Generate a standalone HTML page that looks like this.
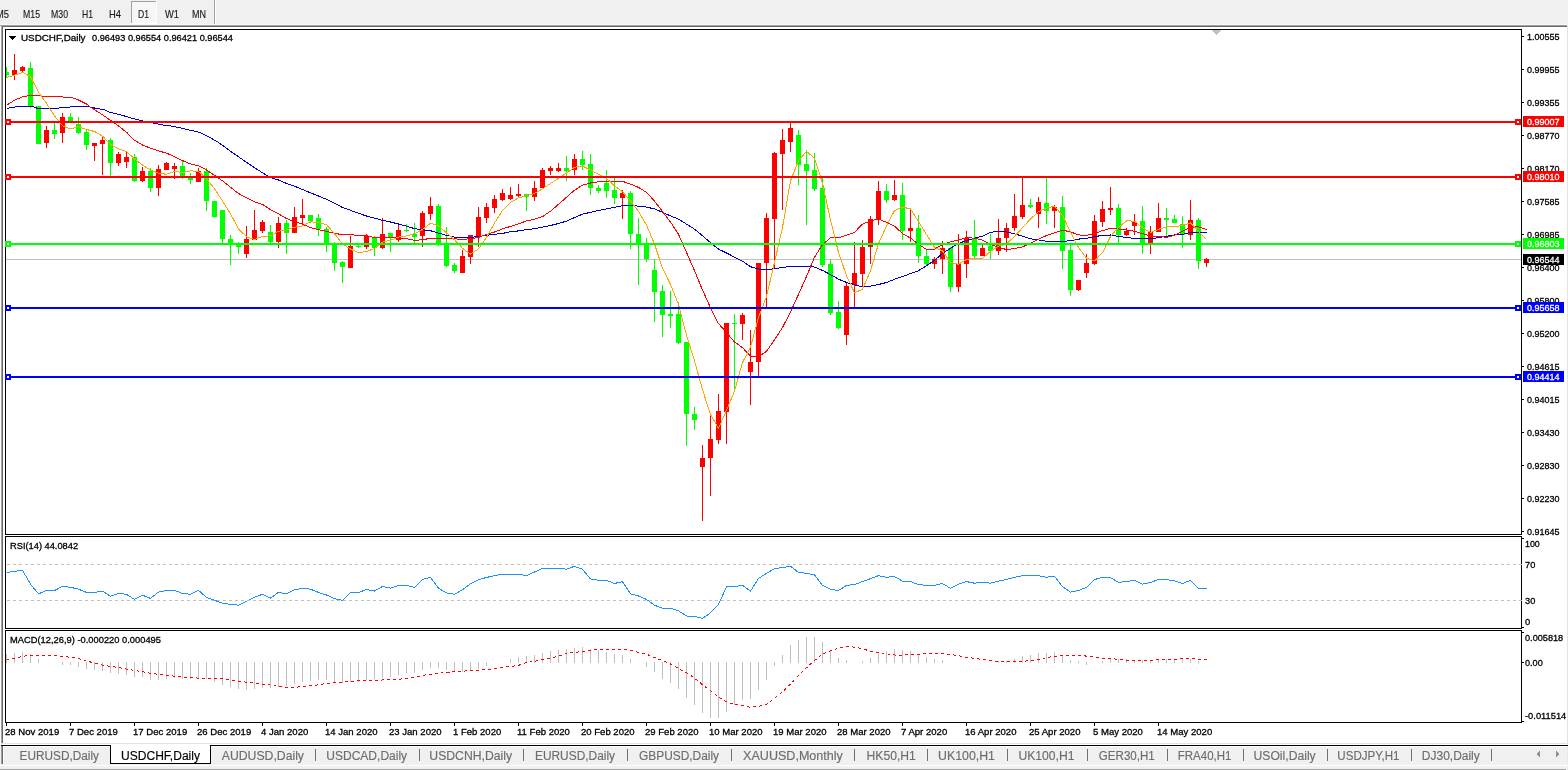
<!DOCTYPE html>
<html><head><meta charset="utf-8"><title>USDCHF,Daily</title>
<style>
html,body{margin:0;padding:0;background:#f0f0f0;overflow:hidden;}
svg{display:block;}
text{font-family:"Liberation Sans",Arial,sans-serif;}
</style></head><body>
<svg width="1568" height="770" viewBox="0 0 1568 770" shape-rendering="crispEdges">
<defs>
<clipPath id="cm"><rect x="6" y="30" width="1515" height="504"/></clipPath>
<clipPath id="cr"><rect x="6" y="537" width="1515" height="91"/></clipPath>
<clipPath id="cc"><rect x="6" y="631" width="1515" height="91"/></clipPath>
</defs>
<rect x="0" y="0" width="1568" height="770" fill="#f0f0f0"/>
<rect x="214" y="0" width="1" height="25" fill="#a0a0a0"/>
<rect x="215" y="0" width="1" height="25" fill="#ffffff"/>
<rect x="131" y="1" width="25" height="22" fill="#f7f7f7"/>
<rect x="131" y="1" width="25" height="1" fill="#a0a0a0"/>
<rect x="131" y="1" width="1" height="22" fill="#a0a0a0"/>
<rect x="156" y="1" width="1" height="23" fill="#ffffff"/>
<rect x="131" y="23" width="26" height="1" fill="#ffffff"/>
<text x="-4" y="18" font-size="11" fill="#1a1a1a" stroke="#1a1a1a" stroke-width="0.15" textLength="13" lengthAdjust="spacingAndGlyphs">M5</text>
<text x="23" y="18" font-size="11" fill="#1a1a1a" stroke="#1a1a1a" stroke-width="0.15" textLength="17" lengthAdjust="spacingAndGlyphs">M15</text>
<text x="51" y="18" font-size="11" fill="#1a1a1a" stroke="#1a1a1a" stroke-width="0.15" textLength="17" lengthAdjust="spacingAndGlyphs">M30</text>
<text x="82" y="18" font-size="11" fill="#1a1a1a" stroke="#1a1a1a" stroke-width="0.15" textLength="11" lengthAdjust="spacingAndGlyphs">H1</text>
<text x="109" y="18" font-size="11" fill="#1a1a1a" stroke="#1a1a1a" stroke-width="0.15" textLength="12" lengthAdjust="spacingAndGlyphs">H4</text>
<text x="138" y="18" font-size="11" fill="#1a1a1a" stroke="#1a1a1a" stroke-width="0.15" textLength="11" lengthAdjust="spacingAndGlyphs">D1</text>
<text x="165" y="18" font-size="11" fill="#1a1a1a" stroke="#1a1a1a" stroke-width="0.15" textLength="14" lengthAdjust="spacingAndGlyphs">W1</text>
<text x="192" y="18" font-size="11" fill="#1a1a1a" stroke="#1a1a1a" stroke-width="0.15" textLength="14" lengthAdjust="spacingAndGlyphs">MN</text>
<rect x="0" y="24" width="1568" height="1" fill="#f8f8f8"/>
<rect x="0" y="25" width="1567" height="1" fill="#a0a0a0"/>
<rect x="2" y="26" width="1565" height="1" fill="#696969"/>
<rect x="0" y="26" width="1" height="718" fill="#ffffff"/>
<rect x="1" y="25" width="1" height="718" fill="#a0a0a0"/>
<rect x="2" y="26" width="1" height="717" fill="#696969"/>
<rect x="3" y="27" width="1564" height="716" fill="#ffffff"/>
<rect x="1567" y="25" width="1" height="720" fill="#e3e3e3"/>
<rect x="5" y="29" width="1517" height="1" fill="#000"/>
<rect x="5" y="534" width="1517" height="1" fill="#000"/>
<rect x="5" y="29" width="1" height="506" fill="#000"/>
<rect x="1521" y="29" width="1" height="506" fill="#000"/>
<rect x="5" y="536" width="1517" height="1" fill="#000"/>
<rect x="5" y="628" width="1517" height="1" fill="#000"/>
<rect x="5" y="536" width="1" height="93" fill="#000"/>
<rect x="1521" y="536" width="1" height="93" fill="#000"/>
<rect x="5" y="630" width="1517" height="1" fill="#000"/>
<rect x="5" y="722" width="1517" height="1" fill="#000"/>
<rect x="5" y="630" width="1" height="93" fill="#000"/>
<rect x="1521" y="630" width="1" height="93" fill="#000"/>
<g clip-path="url(#cm)">
<rect x="6" y="259" width="1515" height="1" fill="#c0c0c0"/>
<rect x="6" y="67" width="1" height="11" fill="#00ff00"/>
<rect x="4" y="72" width="5" height="3" fill="#00ff00"/>
<rect x="14" y="54" width="1" height="26" fill="#ff0000"/>
<rect x="12" y="70" width="5" height="5" fill="#ff0000"/>
<rect x="22" y="66" width="1" height="6" fill="#ff0000"/>
<rect x="20" y="67" width="5" height="4" fill="#ff0000"/>
<rect x="30" y="62" width="1" height="46" fill="#00ff00"/>
<rect x="28" y="68" width="5" height="38" fill="#00ff00"/>
<rect x="38" y="106" width="1" height="38" fill="#00ff00"/>
<rect x="36" y="106" width="5" height="38" fill="#00ff00"/>
<rect x="46" y="126" width="1" height="22" fill="#ff0000"/>
<rect x="44" y="130" width="5" height="13" fill="#ff0000"/>
<rect x="54" y="123" width="1" height="16" fill="#00ff00"/>
<rect x="52" y="130" width="5" height="4" fill="#00ff00"/>
<rect x="62" y="113" width="1" height="30" fill="#ff0000"/>
<rect x="60" y="117" width="5" height="16" fill="#ff0000"/>
<rect x="70" y="113" width="1" height="10" fill="#00ff00"/>
<rect x="68" y="117" width="5" height="4" fill="#00ff00"/>
<rect x="78" y="117" width="1" height="17" fill="#00ff00"/>
<rect x="76" y="124" width="5" height="9" fill="#00ff00"/>
<rect x="86" y="129" width="1" height="21" fill="#00ff00"/>
<rect x="84" y="132" width="5" height="13" fill="#00ff00"/>
<rect x="94" y="143" width="1" height="18" fill="#ff0000"/>
<rect x="92" y="143" width="5" height="3" fill="#ff0000"/>
<rect x="102" y="137" width="1" height="38" fill="#ff0000"/>
<rect x="100" y="140" width="5" height="4" fill="#ff0000"/>
<rect x="110" y="138" width="1" height="38" fill="#00ff00"/>
<rect x="108" y="140" width="5" height="23" fill="#00ff00"/>
<rect x="118" y="152" width="1" height="14" fill="#ff0000"/>
<rect x="116" y="154" width="5" height="9" fill="#ff0000"/>
<rect x="126" y="152" width="1" height="16" fill="#ff0000"/>
<rect x="124" y="157" width="5" height="5" fill="#ff0000"/>
<rect x="134" y="154" width="1" height="28" fill="#00ff00"/>
<rect x="132" y="157" width="5" height="24" fill="#00ff00"/>
<rect x="142" y="167" width="1" height="15" fill="#ff0000"/>
<rect x="140" y="171" width="5" height="10" fill="#ff0000"/>
<rect x="150" y="168" width="1" height="24" fill="#00ff00"/>
<rect x="148" y="171" width="5" height="17" fill="#00ff00"/>
<rect x="158" y="165" width="1" height="31" fill="#ff0000"/>
<rect x="156" y="169" width="5" height="19" fill="#ff0000"/>
<rect x="166" y="162" width="1" height="8" fill="#ff0000"/>
<rect x="164" y="163" width="5" height="7" fill="#ff0000"/>
<rect x="174" y="163" width="1" height="16" fill="#ff0000"/>
<rect x="172" y="166" width="5" height="3" fill="#ff0000"/>
<rect x="182" y="161" width="1" height="18" fill="#00ff00"/>
<rect x="180" y="166" width="5" height="11" fill="#00ff00"/>
<rect x="190" y="173" width="1" height="11" fill="#00ff00"/>
<rect x="188" y="178" width="5" height="2" fill="#00ff00"/>
<rect x="198" y="168" width="1" height="14" fill="#ff0000"/>
<rect x="196" y="171" width="5" height="11" fill="#ff0000"/>
<rect x="206" y="168" width="1" height="43" fill="#00ff00"/>
<rect x="204" y="171" width="5" height="30" fill="#00ff00"/>
<rect x="214" y="201" width="1" height="16" fill="#00ff00"/>
<rect x="212" y="201" width="5" height="16" fill="#00ff00"/>
<rect x="222" y="210" width="1" height="33" fill="#00ff00"/>
<rect x="220" y="210" width="5" height="29" fill="#00ff00"/>
<rect x="230" y="235" width="1" height="30" fill="#00ff00"/>
<rect x="228" y="239" width="5" height="5" fill="#00ff00"/>
<rect x="238" y="242" width="1" height="12" fill="#00ff00"/>
<rect x="236" y="244" width="5" height="3" fill="#00ff00"/>
<rect x="246" y="226" width="1" height="32" fill="#ff0000"/>
<rect x="244" y="239" width="5" height="15" fill="#ff0000"/>
<rect x="254" y="210" width="1" height="30" fill="#ff0000"/>
<rect x="252" y="230" width="5" height="10" fill="#ff0000"/>
<rect x="262" y="220" width="1" height="13" fill="#ff0000"/>
<rect x="260" y="222" width="5" height="9" fill="#ff0000"/>
<rect x="270" y="225" width="1" height="18" fill="#00ff00"/>
<rect x="268" y="232" width="5" height="10" fill="#00ff00"/>
<rect x="278" y="217" width="1" height="31" fill="#ff0000"/>
<rect x="276" y="223" width="5" height="19" fill="#ff0000"/>
<rect x="286" y="220" width="1" height="34" fill="#00ff00"/>
<rect x="284" y="223" width="5" height="10" fill="#00ff00"/>
<rect x="294" y="207" width="1" height="26" fill="#ff0000"/>
<rect x="292" y="217" width="5" height="16" fill="#ff0000"/>
<rect x="302" y="199" width="1" height="26" fill="#ff0000"/>
<rect x="300" y="215" width="5" height="3" fill="#ff0000"/>
<rect x="310" y="215" width="1" height="8" fill="#00ff00"/>
<rect x="308" y="215" width="5" height="6" fill="#00ff00"/>
<rect x="318" y="214" width="1" height="22" fill="#00ff00"/>
<rect x="316" y="218" width="5" height="11" fill="#00ff00"/>
<rect x="326" y="227" width="1" height="25" fill="#00ff00"/>
<rect x="324" y="229" width="5" height="14" fill="#00ff00"/>
<rect x="334" y="242" width="1" height="29" fill="#00ff00"/>
<rect x="332" y="243" width="5" height="20" fill="#00ff00"/>
<rect x="342" y="261" width="1" height="22" fill="#00ff00"/>
<rect x="340" y="262" width="5" height="5" fill="#00ff00"/>
<rect x="350" y="236" width="1" height="32" fill="#ff0000"/>
<rect x="348" y="246" width="5" height="22" fill="#ff0000"/>
<rect x="358" y="245" width="1" height="3" fill="#00ff00"/>
<rect x="356" y="246" width="5" height="1" fill="#00ff00"/>
<rect x="366" y="234" width="1" height="15" fill="#ff0000"/>
<rect x="364" y="236" width="5" height="11" fill="#ff0000"/>
<rect x="374" y="236" width="1" height="20" fill="#00ff00"/>
<rect x="372" y="238" width="5" height="10" fill="#00ff00"/>
<rect x="382" y="218" width="1" height="31" fill="#ff0000"/>
<rect x="380" y="234" width="5" height="14" fill="#ff0000"/>
<rect x="390" y="233" width="1" height="19" fill="#00ff00"/>
<rect x="388" y="233" width="5" height="5" fill="#00ff00"/>
<rect x="398" y="224" width="1" height="18" fill="#ff0000"/>
<rect x="396" y="230" width="5" height="10" fill="#ff0000"/>
<rect x="406" y="224" width="1" height="8" fill="#00ff00"/>
<rect x="404" y="230" width="5" height="1" fill="#00ff00"/>
<rect x="414" y="223" width="1" height="20" fill="#00ff00"/>
<rect x="412" y="234" width="5" height="3" fill="#00ff00"/>
<rect x="422" y="211" width="1" height="36" fill="#ff0000"/>
<rect x="420" y="213" width="5" height="23" fill="#ff0000"/>
<rect x="430" y="197" width="1" height="23" fill="#ff0000"/>
<rect x="428" y="206" width="5" height="8" fill="#ff0000"/>
<rect x="438" y="204" width="1" height="42" fill="#00ff00"/>
<rect x="436" y="206" width="5" height="38" fill="#00ff00"/>
<rect x="446" y="227" width="1" height="40" fill="#00ff00"/>
<rect x="444" y="244" width="5" height="22" fill="#00ff00"/>
<rect x="454" y="263" width="1" height="10" fill="#00ff00"/>
<rect x="452" y="265" width="5" height="6" fill="#00ff00"/>
<rect x="462" y="250" width="1" height="23" fill="#ff0000"/>
<rect x="460" y="256" width="5" height="17" fill="#ff0000"/>
<rect x="470" y="235" width="1" height="29" fill="#ff0000"/>
<rect x="468" y="235" width="5" height="22" fill="#ff0000"/>
<rect x="478" y="207" width="1" height="40" fill="#ff0000"/>
<rect x="476" y="217" width="5" height="20" fill="#ff0000"/>
<rect x="486" y="203" width="1" height="20" fill="#ff0000"/>
<rect x="484" y="207" width="5" height="11" fill="#ff0000"/>
<rect x="494" y="195" width="1" height="18" fill="#ff0000"/>
<rect x="492" y="199" width="5" height="9" fill="#ff0000"/>
<rect x="502" y="189" width="1" height="12" fill="#ff0000"/>
<rect x="500" y="193" width="5" height="7" fill="#ff0000"/>
<rect x="510" y="187" width="1" height="13" fill="#ff0000"/>
<rect x="508" y="195" width="5" height="4" fill="#ff0000"/>
<rect x="518" y="184" width="1" height="13" fill="#ff0000"/>
<rect x="516" y="194" width="5" height="2" fill="#ff0000"/>
<rect x="526" y="194" width="1" height="17" fill="#00ff00"/>
<rect x="524" y="194" width="5" height="3" fill="#00ff00"/>
<rect x="534" y="181" width="1" height="20" fill="#ff0000"/>
<rect x="532" y="188" width="5" height="9" fill="#ff0000"/>
<rect x="542" y="168" width="1" height="20" fill="#ff0000"/>
<rect x="540" y="170" width="5" height="18" fill="#ff0000"/>
<rect x="550" y="166" width="1" height="9" fill="#ff0000"/>
<rect x="548" y="168" width="5" height="3" fill="#ff0000"/>
<rect x="558" y="163" width="1" height="9" fill="#ff0000"/>
<rect x="556" y="168" width="5" height="3" fill="#ff0000"/>
<rect x="566" y="156" width="1" height="25" fill="#00ff00"/>
<rect x="564" y="168" width="5" height="3" fill="#00ff00"/>
<rect x="574" y="154" width="1" height="21" fill="#ff0000"/>
<rect x="572" y="159" width="5" height="11" fill="#ff0000"/>
<rect x="582" y="151" width="1" height="19" fill="#00ff00"/>
<rect x="580" y="159" width="5" height="6" fill="#00ff00"/>
<rect x="590" y="154" width="1" height="41" fill="#00ff00"/>
<rect x="588" y="164" width="5" height="24" fill="#00ff00"/>
<rect x="598" y="185" width="1" height="8" fill="#00ff00"/>
<rect x="596" y="188" width="5" height="3" fill="#00ff00"/>
<rect x="606" y="170" width="1" height="28" fill="#00ff00"/>
<rect x="604" y="183" width="5" height="8" fill="#00ff00"/>
<rect x="614" y="178" width="1" height="26" fill="#00ff00"/>
<rect x="612" y="190" width="5" height="8" fill="#00ff00"/>
<rect x="622" y="190" width="1" height="29" fill="#ff0000"/>
<rect x="620" y="193" width="5" height="5" fill="#ff0000"/>
<rect x="630" y="191" width="1" height="58" fill="#00ff00"/>
<rect x="628" y="193" width="5" height="41" fill="#00ff00"/>
<rect x="638" y="218" width="1" height="67" fill="#00ff00"/>
<rect x="636" y="234" width="5" height="10" fill="#00ff00"/>
<rect x="646" y="238" width="1" height="24" fill="#00ff00"/>
<rect x="644" y="245" width="5" height="14" fill="#00ff00"/>
<rect x="654" y="259" width="1" height="63" fill="#00ff00"/>
<rect x="652" y="270" width="5" height="22" fill="#00ff00"/>
<rect x="662" y="285" width="1" height="52" fill="#00ff00"/>
<rect x="660" y="291" width="5" height="24" fill="#00ff00"/>
<rect x="670" y="291" width="1" height="37" fill="#00ff00"/>
<rect x="668" y="314" width="5" height="2" fill="#00ff00"/>
<rect x="678" y="302" width="1" height="42" fill="#00ff00"/>
<rect x="676" y="314" width="5" height="29" fill="#00ff00"/>
<rect x="686" y="342" width="1" height="104" fill="#00ff00"/>
<rect x="684" y="342" width="5" height="72" fill="#00ff00"/>
<rect x="694" y="407" width="1" height="23" fill="#00ff00"/>
<rect x="692" y="414" width="5" height="6" fill="#00ff00"/>
<rect x="702" y="445" width="1" height="76" fill="#ff0000"/>
<rect x="700" y="458" width="5" height="9" fill="#ff0000"/>
<rect x="710" y="416" width="1" height="80" fill="#ff0000"/>
<rect x="708" y="439" width="5" height="19" fill="#ff0000"/>
<rect x="718" y="394" width="1" height="50" fill="#ff0000"/>
<rect x="716" y="411" width="5" height="29" fill="#ff0000"/>
<rect x="726" y="323" width="1" height="121" fill="#ff0000"/>
<rect x="724" y="323" width="5" height="89" fill="#ff0000"/>
<rect x="734" y="314" width="1" height="75" fill="#00ff00"/>
<rect x="732" y="323" width="5" height="1" fill="#00ff00"/>
<rect x="742" y="313" width="1" height="27" fill="#ff0000"/>
<rect x="740" y="315" width="5" height="9" fill="#ff0000"/>
<rect x="750" y="330" width="1" height="75" fill="#ff0000"/>
<rect x="748" y="362" width="5" height="10" fill="#ff0000"/>
<rect x="758" y="263" width="1" height="113" fill="#ff0000"/>
<rect x="756" y="263" width="5" height="99" fill="#ff0000"/>
<rect x="766" y="213" width="1" height="94" fill="#ff0000"/>
<rect x="764" y="218" width="5" height="45" fill="#ff0000"/>
<rect x="774" y="152" width="1" height="116" fill="#ff0000"/>
<rect x="772" y="153" width="5" height="66" fill="#ff0000"/>
<rect x="782" y="129" width="1" height="81" fill="#ff0000"/>
<rect x="780" y="140" width="5" height="14" fill="#ff0000"/>
<rect x="790" y="122" width="1" height="30" fill="#ff0000"/>
<rect x="788" y="128" width="5" height="14" fill="#ff0000"/>
<rect x="798" y="130" width="1" height="55" fill="#00ff00"/>
<rect x="796" y="135" width="5" height="30" fill="#00ff00"/>
<rect x="806" y="150" width="1" height="75" fill="#00ff00"/>
<rect x="804" y="164" width="5" height="7" fill="#00ff00"/>
<rect x="814" y="153" width="1" height="38" fill="#00ff00"/>
<rect x="812" y="170" width="5" height="19" fill="#00ff00"/>
<rect x="822" y="178" width="1" height="89" fill="#00ff00"/>
<rect x="820" y="188" width="5" height="77" fill="#00ff00"/>
<rect x="830" y="259" width="1" height="56" fill="#00ff00"/>
<rect x="828" y="264" width="5" height="49" fill="#00ff00"/>
<rect x="838" y="301" width="1" height="28" fill="#00ff00"/>
<rect x="836" y="312" width="5" height="16" fill="#00ff00"/>
<rect x="846" y="283" width="1" height="62" fill="#ff0000"/>
<rect x="844" y="286" width="5" height="49" fill="#ff0000"/>
<rect x="854" y="242" width="1" height="65" fill="#ff0000"/>
<rect x="852" y="273" width="5" height="12" fill="#ff0000"/>
<rect x="862" y="240" width="1" height="47" fill="#ff0000"/>
<rect x="860" y="247" width="5" height="27" fill="#ff0000"/>
<rect x="870" y="216" width="1" height="48" fill="#ff0000"/>
<rect x="868" y="219" width="5" height="28" fill="#ff0000"/>
<rect x="878" y="181" width="1" height="44" fill="#ff0000"/>
<rect x="876" y="191" width="5" height="29" fill="#ff0000"/>
<rect x="886" y="184" width="1" height="19" fill="#00ff00"/>
<rect x="884" y="191" width="5" height="9" fill="#00ff00"/>
<rect x="894" y="180" width="1" height="21" fill="#ff0000"/>
<rect x="892" y="195" width="5" height="5" fill="#ff0000"/>
<rect x="902" y="183" width="1" height="57" fill="#00ff00"/>
<rect x="900" y="195" width="5" height="36" fill="#00ff00"/>
<rect x="910" y="210" width="1" height="32" fill="#ff0000"/>
<rect x="908" y="228" width="5" height="3" fill="#ff0000"/>
<rect x="918" y="215" width="1" height="48" fill="#00ff00"/>
<rect x="916" y="228" width="5" height="28" fill="#00ff00"/>
<rect x="926" y="249" width="1" height="16" fill="#00ff00"/>
<rect x="924" y="256" width="5" height="8" fill="#00ff00"/>
<rect x="934" y="257" width="1" height="12" fill="#ff0000"/>
<rect x="932" y="259" width="5" height="5" fill="#ff0000"/>
<rect x="942" y="241" width="1" height="33" fill="#ff0000"/>
<rect x="940" y="248" width="5" height="11" fill="#ff0000"/>
<rect x="950" y="247" width="1" height="45" fill="#00ff00"/>
<rect x="948" y="248" width="5" height="39" fill="#00ff00"/>
<rect x="958" y="234" width="1" height="58" fill="#ff0000"/>
<rect x="956" y="264" width="5" height="23" fill="#ff0000"/>
<rect x="966" y="231" width="1" height="47" fill="#ff0000"/>
<rect x="964" y="238" width="5" height="26" fill="#ff0000"/>
<rect x="974" y="220" width="1" height="38" fill="#00ff00"/>
<rect x="972" y="238" width="5" height="18" fill="#00ff00"/>
<rect x="982" y="245" width="1" height="11" fill="#ff0000"/>
<rect x="980" y="248" width="5" height="8" fill="#ff0000"/>
<rect x="990" y="234" width="1" height="25" fill="#00ff00"/>
<rect x="988" y="246" width="5" height="5" fill="#00ff00"/>
<rect x="998" y="219" width="1" height="36" fill="#ff0000"/>
<rect x="996" y="238" width="5" height="13" fill="#ff0000"/>
<rect x="1006" y="223" width="1" height="29" fill="#ff0000"/>
<rect x="1004" y="228" width="5" height="10" fill="#ff0000"/>
<rect x="1014" y="194" width="1" height="37" fill="#ff0000"/>
<rect x="1012" y="216" width="5" height="12" fill="#ff0000"/>
<rect x="1022" y="177" width="1" height="42" fill="#ff0000"/>
<rect x="1020" y="205" width="5" height="12" fill="#ff0000"/>
<rect x="1030" y="199" width="1" height="9" fill="#00ff00"/>
<rect x="1028" y="205" width="5" height="2" fill="#00ff00"/>
<rect x="1038" y="197" width="1" height="31" fill="#ff0000"/>
<rect x="1036" y="202" width="5" height="12" fill="#ff0000"/>
<rect x="1046" y="178" width="1" height="46" fill="#00ff00"/>
<rect x="1044" y="203" width="5" height="8" fill="#00ff00"/>
<rect x="1054" y="205" width="1" height="23" fill="#ff0000"/>
<rect x="1052" y="207" width="5" height="4" fill="#ff0000"/>
<rect x="1062" y="196" width="1" height="73" fill="#00ff00"/>
<rect x="1060" y="207" width="5" height="44" fill="#00ff00"/>
<rect x="1070" y="244" width="1" height="52" fill="#00ff00"/>
<rect x="1068" y="250" width="5" height="40" fill="#00ff00"/>
<rect x="1078" y="280" width="1" height="11" fill="#ff0000"/>
<rect x="1076" y="280" width="5" height="10" fill="#ff0000"/>
<rect x="1086" y="254" width="1" height="24" fill="#ff0000"/>
<rect x="1084" y="263" width="5" height="10" fill="#ff0000"/>
<rect x="1094" y="215" width="1" height="50" fill="#ff0000"/>
<rect x="1092" y="221" width="5" height="43" fill="#ff0000"/>
<rect x="1102" y="201" width="1" height="26" fill="#ff0000"/>
<rect x="1100" y="209" width="5" height="13" fill="#ff0000"/>
<rect x="1110" y="187" width="1" height="28" fill="#ff0000"/>
<rect x="1108" y="208" width="5" height="2" fill="#ff0000"/>
<rect x="1118" y="204" width="1" height="39" fill="#00ff00"/>
<rect x="1116" y="208" width="5" height="27" fill="#00ff00"/>
<rect x="1126" y="228" width="1" height="8" fill="#ff0000"/>
<rect x="1124" y="231" width="5" height="4" fill="#ff0000"/>
<rect x="1134" y="214" width="1" height="21" fill="#ff0000"/>
<rect x="1132" y="222" width="5" height="4" fill="#ff0000"/>
<rect x="1142" y="206" width="1" height="48" fill="#00ff00"/>
<rect x="1140" y="221" width="5" height="22" fill="#00ff00"/>
<rect x="1150" y="226" width="1" height="28" fill="#ff0000"/>
<rect x="1148" y="232" width="5" height="11" fill="#ff0000"/>
<rect x="1158" y="203" width="1" height="29" fill="#ff0000"/>
<rect x="1156" y="218" width="5" height="14" fill="#ff0000"/>
<rect x="1166" y="208" width="1" height="28" fill="#00ff00"/>
<rect x="1164" y="218" width="5" height="2" fill="#00ff00"/>
<rect x="1174" y="215" width="1" height="8" fill="#00ff00"/>
<rect x="1172" y="219" width="5" height="4" fill="#00ff00"/>
<rect x="1182" y="216" width="1" height="32" fill="#00ff00"/>
<rect x="1180" y="224" width="5" height="11" fill="#00ff00"/>
<rect x="1190" y="200" width="1" height="40" fill="#ff0000"/>
<rect x="1188" y="220" width="5" height="15" fill="#ff0000"/>
<rect x="1198" y="218" width="1" height="51" fill="#00ff00"/>
<rect x="1196" y="220" width="5" height="41" fill="#00ff00"/>
<rect x="1206" y="258" width="1" height="9" fill="#ff0000"/>
<rect x="1204" y="259" width="5" height="4" fill="#ff0000"/>
<polyline points="6.5,108.4 17.5,106.5 31.8,106.1 37.0,108.2 57.7,108.2 64.5,107.1 70.5,107.0 86.5,106.3 90.5,107.2 99.1,108.9 104.4,109.8 109.6,112.2 117.3,114.1 124.9,116.1 132.6,118.4 141.2,120.6 153.7,123.2 163.2,125.1 171.8,126.1 181.4,128.0 190.0,130.2 199.6,132.3 209.2,137.1 216.8,141.4 224.5,146.7 232.1,152.4 238.5,156.8 246.5,162.3 254.5,167.7 262.5,172.8 270.5,177.4 278.5,180.0 286.5,183.4 294.5,186.2 302.5,189.5 310.5,192.8 318.5,196.0 326.5,199.3 334.5,203.3 342.5,207.5 350.5,210.3 358.5,213.3 366.5,216.0 374.5,218.2 382.5,220.3 390.5,222.0 398.5,224.0 406.5,226.2 414.5,228.6 422.5,229.8 430.5,230.7 438.5,233.1 446.5,235.3 454.5,237.1 462.5,237.7 470.5,237.4 478.5,236.4 486.5,235.4 494.5,234.3 502.5,233.4 510.5,231.8 518.5,230.9 526.5,229.7 534.5,228.7 542.5,227.2 550.5,225.5 558.5,223.5 566.5,221.1 574.5,217.6 582.5,214.2 590.5,212.3 598.5,210.4 606.5,208.9 614.5,207.2 622.5,205.8 630.5,205.7 638.5,206.1 646.5,207.1 654.5,208.9 662.5,212.3 670.5,215.9 678.5,219.2 686.5,224.1 694.5,229.1 702.5,235.8 710.5,242.6 718.5,249.1 726.5,253.0 734.5,257.1 742.5,261.2 750.5,266.7 758.5,269.0 766.5,269.8 774.5,268.6 782.5,267.6 790.5,266.3 798.5,266.1 806.5,266.1 814.5,267.1 822.5,270.4 830.5,274.6 838.5,279.2 846.5,282.4 854.5,284.9 862.5,286.7 870.5,286.2 878.5,284.5 886.5,282.5 894.5,279.3 902.5,276.5 910.5,273.6 918.5,270.7 926.5,265.7 934.5,260.4 942.5,253.4 950.5,248.3 958.5,243.4 966.5,240.6 974.5,238.3 982.5,236.1 990.5,232.3 998.5,231.5 1006.5,231.8 1014.5,233.9 1022.5,236.1 1030.5,238.7 1038.5,240.0 1046.5,241.3 1054.5,241.9 1062.5,241.5 1070.5,240.7 1078.5,239.1 1086.5,238.4 1094.5,236.6 1102.5,235.4 1110.5,235.0 1118.5,236.4 1126.5,237.5 1134.5,238.4 1142.5,238.8 1150.5,238.9 1158.5,237.7 1166.5,236.2 1174.5,235.0 1182.5,234.5 1190.5,232.3 1198.5,232.2 1206.5,232.9" fill="none" stroke="#0000cd" stroke-width="1"/>
<polyline points="6.5,105.2 14.9,100.0 22.7,96.8 28.5,95.7 35.0,95.5 42.2,96.1 59.0,96.1 64.5,97.4 70.5,97.2 78.5,100.0 86.5,104.0 90.5,107.2 100.1,113.2 110.5,120.3 118.5,126.0 126.5,132.2 134.5,140.3 142.5,145.0 150.5,148.2 158.5,150.9 166.5,153.1 174.5,156.6 182.5,160.6 190.5,163.9 198.5,165.9 206.5,169.9 214.5,175.4 222.5,180.8 230.5,187.2 238.5,193.5 246.5,197.7 254.5,201.9 262.5,204.4 270.5,209.6 278.5,213.9 286.5,218.6 294.5,221.5 302.5,224.1 310.5,227.6 318.5,229.6 326.5,231.4 334.5,233.2 342.5,234.8 350.5,234.8 358.5,235.3 366.5,235.7 374.5,237.5 382.5,237.0 390.5,238.0 398.5,237.9 406.5,238.8 414.5,240.3 422.5,239.8 430.5,238.2 438.5,238.3 446.5,238.5 454.5,238.8 462.5,239.5 470.5,238.7 478.5,237.4 486.5,234.5 494.5,232.0 502.5,228.9 510.5,226.4 518.5,223.8 526.5,220.9 534.5,219.2 542.5,216.6 550.5,211.2 558.5,204.3 566.5,197.2 574.5,190.2 582.5,185.2 590.5,183.0 598.5,181.8 606.5,181.2 614.5,181.4 622.5,181.3 630.5,184.1 638.5,187.4 646.5,192.4 654.5,201.1 662.5,211.5 670.5,222.0 678.5,234.3 686.5,252.4 694.5,270.7 702.5,290.0 710.5,307.8 718.5,323.6 726.5,332.6 734.5,341.9 742.5,347.7 750.5,356.2 758.5,356.6 766.5,351.4 774.5,339.9 782.5,327.4 790.5,312.1 798.5,294.3 806.5,276.5 814.5,257.2 822.5,244.7 830.5,237.7 838.5,237.9 846.5,235.3 854.5,232.3 862.5,224.1 870.5,220.9 878.5,219.0 886.5,222.3 894.5,226.2 902.5,233.5 910.5,238.1 918.5,244.2 926.5,249.5 934.5,249.2 942.5,244.6 950.5,241.7 958.5,240.1 966.5,237.6 974.5,238.2 982.5,240.2 990.5,244.4 998.5,247.2 1006.5,249.6 1014.5,248.6 1022.5,246.9 1030.5,243.4 1038.5,239.1 1046.5,235.6 1054.5,232.7 1062.5,230.1 1070.5,231.9 1078.5,234.9 1086.5,235.4 1094.5,233.5 1102.5,230.6 1110.5,228.4 1118.5,228.9 1126.5,229.9 1134.5,231.2 1142.5,233.7 1150.5,235.9 1158.5,236.4 1166.5,237.3 1174.5,235.3 1182.5,231.4 1190.5,227.1 1198.5,226.9 1206.5,229.6" fill="none" stroke="#ff0000" stroke-width="1"/>
<polyline points="6.5,77.3 14.5,75.3 22.5,72.3 30.5,76.6 38.5,92.1 46.5,103.3 54.5,115.9 62.5,125.9 70.5,128.9 78.5,126.7 86.5,129.5 94.5,131.5 102.5,136.1 110.5,144.5 118.5,148.9 126.5,151.5 134.5,158.9 142.5,165.1 150.5,170.1 158.5,173.1 166.5,174.3 174.5,171.5 182.5,172.5 190.5,170.9 198.5,171.3 206.5,178.7 214.5,188.7 222.5,201.1 230.5,213.9 238.5,228.9 246.5,236.7 254.5,239.5 262.5,236.3 270.5,235.9 278.5,231.3 286.5,229.9 294.5,227.3 302.5,225.9 310.5,221.7 318.5,222.7 326.5,224.7 334.5,233.7 342.5,243.9 350.5,249.1 358.5,252.7 366.5,251.5 374.5,248.5 382.5,242.1 390.5,240.3 398.5,237.1 406.5,235.9 414.5,233.7 422.5,229.5 430.5,223.3 438.5,225.9 446.5,232.9 454.5,239.7 462.5,248.3 470.5,254.1 478.5,248.9 486.5,237.3 494.5,223.1 502.5,210.5 510.5,202.5 518.5,197.9 526.5,195.7 534.5,193.5 542.5,188.9 550.5,183.5 558.5,178.3 566.5,173.1 574.5,167.3 582.5,166.1 590.5,169.9 598.5,174.3 606.5,178.3 614.5,185.9 622.5,191.7 630.5,200.9 638.5,211.5 646.5,225.1 654.5,243.9 662.5,268.1 670.5,284.5 678.5,304.3 686.5,335.3 694.5,360.9 702.5,389.7 710.5,414.5 718.5,428.3 726.5,410.3 734.5,391.1 742.5,362.5 750.5,347.1 758.5,317.5 766.5,296.5 774.5,262.5 782.5,227.5 790.5,180.7 798.5,160.9 806.5,151.3 814.5,158.3 822.5,183.1 830.5,219.9 838.5,252.5 846.5,275.7 854.5,292.7 862.5,289.3 870.5,270.7 878.5,243.5 886.5,226.1 894.5,210.5 902.5,207.1 910.5,208.9 918.5,221.7 926.5,234.5 934.5,247.3 942.5,250.9 950.5,262.5 958.5,264.3 966.5,259.3 974.5,258.5 982.5,258.5 990.5,251.3 998.5,246.1 1006.5,244.1 1014.5,236.3 1022.5,227.7 1030.5,218.9 1038.5,211.7 1046.5,208.1 1054.5,206.3 1062.5,215.3 1070.5,231.9 1078.5,247.5 1086.5,258.1 1094.5,260.9 1102.5,252.7 1110.5,236.5 1118.5,227.3 1126.5,220.9 1134.5,221.1 1142.5,227.7 1150.5,232.5 1158.5,229.3 1166.5,226.9 1174.5,226.9 1182.5,225.3 1190.5,222.9 1198.5,231.3 1206.5,239.3" fill="none" stroke="#ffa500" stroke-width="1"/>
</g>
<rect x="6" y="121" width="1515" height="2" fill="#ff0000"/>
<rect x="5" y="119" width="6" height="6" fill="#ff0000"/>
<rect x="7" y="121" width="2" height="2" fill="#ffffff"/>
<rect x="1515" y="119" width="6" height="6" fill="#ff0000"/>
<rect x="1517" y="121" width="2" height="2" fill="#ffffff"/>
<rect x="6" y="176" width="1515" height="2" fill="#ff0000"/>
<rect x="5" y="174" width="6" height="6" fill="#ff0000"/>
<rect x="7" y="176" width="2" height="2" fill="#ffffff"/>
<rect x="1515" y="174" width="6" height="6" fill="#ff0000"/>
<rect x="1517" y="176" width="2" height="2" fill="#ffffff"/>
<rect x="6" y="243" width="1515" height="2" fill="#00ff00"/>
<rect x="5" y="241" width="6" height="6" fill="#00ff00"/>
<rect x="7" y="243" width="2" height="2" fill="#ffffff"/>
<rect x="1515" y="241" width="6" height="6" fill="#00ff00"/>
<rect x="1517" y="243" width="2" height="2" fill="#ffffff"/>
<rect x="6" y="307" width="1515" height="2" fill="#0000ff"/>
<rect x="5" y="305" width="6" height="6" fill="#0000ff"/>
<rect x="7" y="307" width="2" height="2" fill="#ffffff"/>
<rect x="1515" y="305" width="6" height="6" fill="#0000ff"/>
<rect x="1517" y="307" width="2" height="2" fill="#ffffff"/>
<rect x="6" y="376" width="1515" height="2" fill="#0000ff"/>
<rect x="5" y="374" width="6" height="6" fill="#0000ff"/>
<rect x="7" y="376" width="2" height="2" fill="#ffffff"/>
<rect x="1515" y="374" width="6" height="6" fill="#0000ff"/>
<rect x="1517" y="376" width="2" height="2" fill="#ffffff"/>
<polygon points="1212,30 1221,30 1216.5,35" fill="#c0c0c0"/>
<polygon points="9,36 16,36 12.5,40" fill="#000"/>
<text x="21" y="41" font-size="9.6" fill="#000" stroke="#000" stroke-width="0.3" textLength="64.5" lengthAdjust="spacingAndGlyphs">USDCHF,Daily</text>
<text x="92" y="41" font-size="9.6" fill="#000" stroke="#000" stroke-width="0.3" textLength="141" lengthAdjust="spacingAndGlyphs">0.96493 0.96554 0.96421 0.96544</text>
<rect x="1522" y="36" width="2" height="1" fill="#000"/>
<text x="1527" y="40" font-size="9.6" fill="#000" stroke="#000" stroke-width="0.3" textLength="32.5" lengthAdjust="spacingAndGlyphs">1.00555</text>
<rect x="1522" y="69" width="2" height="1" fill="#000"/>
<text x="1527" y="73" font-size="9.6" fill="#000" stroke="#000" stroke-width="0.3" textLength="32.5" lengthAdjust="spacingAndGlyphs">0.99955</text>
<rect x="1522" y="102" width="2" height="1" fill="#000"/>
<text x="1527" y="106" font-size="9.6" fill="#000" stroke="#000" stroke-width="0.3" textLength="32.5" lengthAdjust="spacingAndGlyphs">0.99355</text>
<rect x="1522" y="135" width="2" height="1" fill="#000"/>
<text x="1527" y="139" font-size="9.6" fill="#000" stroke="#000" stroke-width="0.3" textLength="32.5" lengthAdjust="spacingAndGlyphs">0.98770</text>
<rect x="1522" y="168" width="2" height="1" fill="#000"/>
<text x="1527" y="172" font-size="9.6" fill="#000" stroke="#000" stroke-width="0.3" textLength="32.5" lengthAdjust="spacingAndGlyphs">0.98170</text>
<rect x="1522" y="201" width="2" height="1" fill="#000"/>
<text x="1527" y="205" font-size="9.6" fill="#000" stroke="#000" stroke-width="0.3" textLength="32.5" lengthAdjust="spacingAndGlyphs">0.97585</text>
<rect x="1522" y="234" width="2" height="1" fill="#000"/>
<text x="1527" y="238" font-size="9.6" fill="#000" stroke="#000" stroke-width="0.3" textLength="32.5" lengthAdjust="spacingAndGlyphs">0.96985</text>
<rect x="1522" y="267" width="2" height="1" fill="#000"/>
<text x="1527" y="271" font-size="9.6" fill="#000" stroke="#000" stroke-width="0.3" textLength="32.5" lengthAdjust="spacingAndGlyphs">0.96400</text>
<rect x="1522" y="300" width="2" height="1" fill="#000"/>
<text x="1527" y="304" font-size="9.6" fill="#000" stroke="#000" stroke-width="0.3" textLength="32.5" lengthAdjust="spacingAndGlyphs">0.95800</text>
<rect x="1522" y="333" width="2" height="1" fill="#000"/>
<text x="1527" y="337" font-size="9.6" fill="#000" stroke="#000" stroke-width="0.3" textLength="32.5" lengthAdjust="spacingAndGlyphs">0.95200</text>
<rect x="1522" y="366" width="2" height="1" fill="#000"/>
<text x="1527" y="370" font-size="9.6" fill="#000" stroke="#000" stroke-width="0.3" textLength="32.5" lengthAdjust="spacingAndGlyphs">0.94615</text>
<rect x="1522" y="399" width="2" height="1" fill="#000"/>
<text x="1527" y="403" font-size="9.6" fill="#000" stroke="#000" stroke-width="0.3" textLength="32.5" lengthAdjust="spacingAndGlyphs">0.94015</text>
<rect x="1522" y="432" width="2" height="1" fill="#000"/>
<text x="1527" y="436" font-size="9.6" fill="#000" stroke="#000" stroke-width="0.3" textLength="32.5" lengthAdjust="spacingAndGlyphs">0.93430</text>
<rect x="1522" y="465" width="2" height="1" fill="#000"/>
<text x="1527" y="469" font-size="9.6" fill="#000" stroke="#000" stroke-width="0.3" textLength="32.5" lengthAdjust="spacingAndGlyphs">0.92830</text>
<rect x="1522" y="498" width="2" height="1" fill="#000"/>
<text x="1527" y="502" font-size="9.6" fill="#000" stroke="#000" stroke-width="0.3" textLength="32.5" lengthAdjust="spacingAndGlyphs">0.92230</text>
<rect x="1522" y="531" width="2" height="1" fill="#000"/>
<text x="1527" y="535" font-size="9.6" fill="#000" stroke="#000" stroke-width="0.3" textLength="32.5" lengthAdjust="spacingAndGlyphs">0.91645</text>
<rect x="1523" y="116" width="41" height="11" fill="#ff0000"/>
<text x="1527" y="125" font-size="9.6" fill="#ffffff" stroke="#ffffff" stroke-width="0.3" textLength="32.5" lengthAdjust="spacingAndGlyphs">0.99007</text>
<rect x="1523" y="171" width="41" height="11" fill="#ff0000"/>
<text x="1527" y="180" font-size="9.6" fill="#ffffff" stroke="#ffffff" stroke-width="0.3" textLength="32.5" lengthAdjust="spacingAndGlyphs">0.98010</text>
<rect x="1523" y="238" width="41" height="11" fill="#00ff00"/>
<text x="1527" y="247" font-size="9.6" fill="#ffffff" stroke="#ffffff" stroke-width="0.3" textLength="32.5" lengthAdjust="spacingAndGlyphs">0.96803</text>
<rect x="1523" y="302" width="41" height="11" fill="#0000ff"/>
<text x="1527" y="311" font-size="9.6" fill="#ffffff" stroke="#ffffff" stroke-width="0.3" textLength="32.5" lengthAdjust="spacingAndGlyphs">0.95658</text>
<rect x="1523" y="371" width="41" height="11" fill="#0000ff"/>
<text x="1527" y="380" font-size="9.6" fill="#ffffff" stroke="#ffffff" stroke-width="0.3" textLength="32.5" lengthAdjust="spacingAndGlyphs">0.94414</text>
<rect x="1523" y="254" width="41" height="11" fill="#000"/>
<text x="1527" y="263" font-size="9.6" fill="#ffffff" stroke="#ffffff" stroke-width="0.3" textLength="32.5" lengthAdjust="spacingAndGlyphs">0.96544</text>
<g clip-path="url(#cr)">
<polyline points="6.5,572.4 14.5,571.4 22.5,570.3 30.5,584.1 38.5,593.9 46.5,590.5 54.5,590.5 62.5,586.4 70.5,587.3 78.5,589.2 86.5,592.4 94.5,592.4 102.5,591.1 110.5,596.2 118.5,593.4 126.5,594.3 134.5,599.4 142.5,595.2 150.5,598.4 158.5,592.1 166.5,590.5 174.5,590.5 182.5,593.4 190.5,594.3 198.5,590.3 206.5,597.5 214.5,600.3 222.5,603.2 230.5,604.3 238.5,605.2 246.5,601.1 254.5,597.2 262.5,594.3 270.5,598.1 278.5,592.4 286.5,593.9 294.5,589.8 302.5,588.3 310.5,589.2 318.5,592.4 326.5,595.0 334.5,598.8 342.5,600.3 350.5,592.4 358.5,592.4 366.5,589.6 374.5,591.1 382.5,586.4 390.5,588.2 398.5,585.4 406.5,585.4 414.5,587.3 422.5,579.4 430.5,577.3 438.5,588.3 446.5,593.0 454.5,594.3 462.5,589.8 470.5,583.7 478.5,579.6 486.5,577.5 494.5,575.6 502.5,574.3 510.5,574.3 518.5,574.3 526.5,575.6 534.5,572.0 542.5,568.4 550.5,568.4 558.5,568.4 566.5,569.2 574.5,566.3 582.5,569.3 590.5,579.0 598.5,580.3 606.5,580.3 614.5,583.5 622.5,581.6 630.5,593.9 638.5,596.0 646.5,599.4 654.5,605.2 662.5,608.3 670.5,608.3 678.5,610.9 686.5,616.0 694.5,616.4 702.5,618.5 710.5,612.8 718.5,604.5 726.5,586.7 734.5,586.4 742.5,585.4 750.5,591.1 758.5,578.4 766.5,573.3 774.5,568.6 782.5,567.5 790.5,566.3 798.5,572.4 806.5,573.3 814.5,574.8 822.5,585.4 830.5,589.2 838.5,590.5 846.5,585.4 854.5,584.5 862.5,581.6 870.5,578.6 878.5,575.6 886.5,577.3 894.5,576.5 902.5,581.2 910.5,581.6 918.5,584.5 926.5,585.4 934.5,585.4 942.5,583.5 950.5,588.3 958.5,584.1 966.5,581.6 974.5,583.2 982.5,582.4 990.5,583.2 998.5,581.2 1006.5,579.4 1014.5,577.3 1022.5,575.6 1030.5,575.6 1038.5,575.6 1046.5,577.3 1054.5,576.1 1062.5,586.7 1070.5,592.1 1078.5,590.5 1086.5,587.3 1094.5,579.6 1102.5,577.3 1110.5,577.7 1118.5,582.4 1126.5,581.6 1134.5,580.3 1142.5,584.1 1150.5,582.4 1158.5,579.6 1166.5,579.6 1174.5,580.7 1182.5,583.5 1190.5,580.3 1198.5,588.3 1206.5,588.3" fill="none" stroke="#1e90ff" stroke-width="1"/>
</g>
<line x1="7" y1="564.5" x2="1522" y2="564.5" stroke="#c0c0c0" stroke-width="1" stroke-dasharray="3,3"/>
<line x1="7" y1="600.5" x2="1522" y2="600.5" stroke="#c0c0c0" stroke-width="1" stroke-dasharray="3,3"/>
<text x="10" y="549" font-size="9.6" fill="#000" stroke="#000" stroke-width="0.3" textLength="68.1" lengthAdjust="spacingAndGlyphs">RSI(14) 44.0842</text>
<text x="1525" y="547" font-size="9.6" fill="#000" stroke="#000" stroke-width="0.3" textLength="14.8" lengthAdjust="spacingAndGlyphs">100</text>
<text x="1525" y="568" font-size="9.6" fill="#000" stroke="#000" stroke-width="0.3" textLength="10.3" lengthAdjust="spacingAndGlyphs">70</text>
<text x="1525" y="604" font-size="9.6" fill="#000" stroke="#000" stroke-width="0.3" textLength="10.3" lengthAdjust="spacingAndGlyphs">30</text>
<text x="1525" y="625" font-size="9.6" fill="#000" stroke="#000" stroke-width="0.3" textLength="5.2" lengthAdjust="spacingAndGlyphs">0</text>
<rect x="1522" y="538" width="2" height="1" fill="#000"/>
<rect x="1522" y="627" width="2" height="1" fill="#000"/>
<g clip-path="url(#cc)">
<rect x="6" y="654" width="1" height="9" fill="#c0c0c0"/>
<rect x="14" y="653" width="1" height="10" fill="#c0c0c0"/>
<rect x="22" y="652" width="1" height="11" fill="#c0c0c0"/>
<rect x="30" y="654" width="1" height="9" fill="#c0c0c0"/>
<rect x="38" y="659" width="1" height="4" fill="#c0c0c0"/>
<rect x="62" y="662" width="1" height="3" fill="#c0c0c0"/>
<rect x="70" y="662" width="1" height="3" fill="#c0c0c0"/>
<rect x="78" y="662" width="1" height="5" fill="#c0c0c0"/>
<rect x="86" y="662" width="1" height="7" fill="#c0c0c0"/>
<rect x="94" y="662" width="1" height="8" fill="#c0c0c0"/>
<rect x="102" y="662" width="1" height="9" fill="#c0c0c0"/>
<rect x="110" y="662" width="1" height="11" fill="#c0c0c0"/>
<rect x="118" y="662" width="1" height="12" fill="#c0c0c0"/>
<rect x="126" y="662" width="1" height="13" fill="#c0c0c0"/>
<rect x="134" y="662" width="1" height="15" fill="#c0c0c0"/>
<rect x="142" y="662" width="1" height="15" fill="#c0c0c0"/>
<rect x="150" y="662" width="1" height="18" fill="#c0c0c0"/>
<rect x="158" y="662" width="1" height="18" fill="#c0c0c0"/>
<rect x="166" y="662" width="1" height="17" fill="#c0c0c0"/>
<rect x="174" y="662" width="1" height="16" fill="#c0c0c0"/>
<rect x="182" y="662" width="1" height="17" fill="#c0c0c0"/>
<rect x="190" y="662" width="1" height="17" fill="#c0c0c0"/>
<rect x="198" y="662" width="1" height="16" fill="#c0c0c0"/>
<rect x="206" y="662" width="1" height="17" fill="#c0c0c0"/>
<rect x="214" y="662" width="1" height="20" fill="#c0c0c0"/>
<rect x="222" y="662" width="1" height="23" fill="#c0c0c0"/>
<rect x="230" y="662" width="1" height="25" fill="#c0c0c0"/>
<rect x="238" y="662" width="1" height="27" fill="#c0c0c0"/>
<rect x="246" y="662" width="1" height="28" fill="#c0c0c0"/>
<rect x="254" y="662" width="1" height="27" fill="#c0c0c0"/>
<rect x="262" y="662" width="1" height="26" fill="#c0c0c0"/>
<rect x="270" y="662" width="1" height="26" fill="#c0c0c0"/>
<rect x="278" y="662" width="1" height="25" fill="#c0c0c0"/>
<rect x="286" y="662" width="1" height="24" fill="#c0c0c0"/>
<rect x="294" y="662" width="1" height="22" fill="#c0c0c0"/>
<rect x="302" y="662" width="1" height="20" fill="#c0c0c0"/>
<rect x="310" y="662" width="1" height="19" fill="#c0c0c0"/>
<rect x="318" y="662" width="1" height="18" fill="#c0c0c0"/>
<rect x="326" y="662" width="1" height="18" fill="#c0c0c0"/>
<rect x="334" y="662" width="1" height="20" fill="#c0c0c0"/>
<rect x="342" y="662" width="1" height="21" fill="#c0c0c0"/>
<rect x="350" y="662" width="1" height="20" fill="#c0c0c0"/>
<rect x="358" y="662" width="1" height="20" fill="#c0c0c0"/>
<rect x="366" y="662" width="1" height="18" fill="#c0c0c0"/>
<rect x="374" y="662" width="1" height="17" fill="#c0c0c0"/>
<rect x="382" y="662" width="1" height="16" fill="#c0c0c0"/>
<rect x="390" y="662" width="1" height="15" fill="#c0c0c0"/>
<rect x="398" y="662" width="1" height="13" fill="#c0c0c0"/>
<rect x="406" y="662" width="1" height="11" fill="#c0c0c0"/>
<rect x="414" y="662" width="1" height="11" fill="#c0c0c0"/>
<rect x="422" y="662" width="1" height="8" fill="#c0c0c0"/>
<rect x="430" y="662" width="1" height="6" fill="#c0c0c0"/>
<rect x="438" y="662" width="1" height="6" fill="#c0c0c0"/>
<rect x="446" y="662" width="1" height="8" fill="#c0c0c0"/>
<rect x="454" y="662" width="1" height="10" fill="#c0c0c0"/>
<rect x="462" y="662" width="1" height="10" fill="#c0c0c0"/>
<rect x="470" y="662" width="1" height="9" fill="#c0c0c0"/>
<rect x="478" y="662" width="1" height="7" fill="#c0c0c0"/>
<rect x="486" y="662" width="1" height="4" fill="#c0c0c0"/>
<rect x="510" y="659" width="1" height="4" fill="#c0c0c0"/>
<rect x="518" y="657" width="1" height="6" fill="#c0c0c0"/>
<rect x="526" y="656" width="1" height="7" fill="#c0c0c0"/>
<rect x="534" y="655" width="1" height="8" fill="#c0c0c0"/>
<rect x="542" y="653" width="1" height="10" fill="#c0c0c0"/>
<rect x="550" y="651" width="1" height="12" fill="#c0c0c0"/>
<rect x="558" y="650" width="1" height="13" fill="#c0c0c0"/>
<rect x="566" y="649" width="1" height="14" fill="#c0c0c0"/>
<rect x="574" y="648" width="1" height="15" fill="#c0c0c0"/>
<rect x="582" y="647" width="1" height="16" fill="#c0c0c0"/>
<rect x="590" y="649" width="1" height="14" fill="#c0c0c0"/>
<rect x="598" y="650" width="1" height="13" fill="#c0c0c0"/>
<rect x="606" y="652" width="1" height="11" fill="#c0c0c0"/>
<rect x="614" y="654" width="1" height="9" fill="#c0c0c0"/>
<rect x="622" y="655" width="1" height="8" fill="#c0c0c0"/>
<rect x="630" y="659" width="1" height="4" fill="#c0c0c0"/>
<rect x="646" y="662" width="1" height="5" fill="#c0c0c0"/>
<rect x="654" y="662" width="1" height="10" fill="#c0c0c0"/>
<rect x="662" y="662" width="1" height="17" fill="#c0c0c0"/>
<rect x="670" y="662" width="1" height="21" fill="#c0c0c0"/>
<rect x="678" y="662" width="1" height="27" fill="#c0c0c0"/>
<rect x="686" y="662" width="1" height="36" fill="#c0c0c0"/>
<rect x="694" y="662" width="1" height="43" fill="#c0c0c0"/>
<rect x="702" y="662" width="1" height="51" fill="#c0c0c0"/>
<rect x="710" y="662" width="1" height="56" fill="#c0c0c0"/>
<rect x="718" y="662" width="1" height="56" fill="#c0c0c0"/>
<rect x="726" y="662" width="1" height="50" fill="#c0c0c0"/>
<rect x="734" y="662" width="1" height="43" fill="#c0c0c0"/>
<rect x="742" y="662" width="1" height="38" fill="#c0c0c0"/>
<rect x="750" y="662" width="1" height="37" fill="#c0c0c0"/>
<rect x="758" y="662" width="1" height="28" fill="#c0c0c0"/>
<rect x="766" y="662" width="1" height="18" fill="#c0c0c0"/>
<rect x="774" y="662" width="1" height="4" fill="#c0c0c0"/>
<rect x="782" y="655" width="1" height="8" fill="#c0c0c0"/>
<rect x="790" y="645" width="1" height="18" fill="#c0c0c0"/>
<rect x="798" y="640" width="1" height="23" fill="#c0c0c0"/>
<rect x="806" y="637" width="1" height="26" fill="#c0c0c0"/>
<rect x="814" y="637" width="1" height="26" fill="#c0c0c0"/>
<rect x="822" y="642" width="1" height="21" fill="#c0c0c0"/>
<rect x="830" y="651" width="1" height="12" fill="#c0c0c0"/>
<rect x="838" y="658" width="1" height="5" fill="#c0c0c0"/>
<rect x="846" y="660" width="1" height="3" fill="#c0c0c0"/>
<rect x="862" y="661" width="1" height="2" fill="#c0c0c0"/>
<rect x="870" y="658" width="1" height="5" fill="#c0c0c0"/>
<rect x="878" y="654" width="1" height="9" fill="#c0c0c0"/>
<rect x="886" y="651" width="1" height="12" fill="#c0c0c0"/>
<rect x="894" y="649" width="1" height="14" fill="#c0c0c0"/>
<rect x="902" y="650" width="1" height="13" fill="#c0c0c0"/>
<rect x="910" y="651" width="1" height="12" fill="#c0c0c0"/>
<rect x="918" y="655" width="1" height="8" fill="#c0c0c0"/>
<rect x="926" y="657" width="1" height="6" fill="#c0c0c0"/>
<rect x="934" y="659" width="1" height="4" fill="#c0c0c0"/>
<rect x="942" y="660" width="1" height="3" fill="#c0c0c0"/>
<rect x="998" y="661" width="1" height="2" fill="#c0c0c0"/>
<rect x="1006" y="661" width="1" height="2" fill="#c0c0c0"/>
<rect x="1014" y="659" width="1" height="4" fill="#c0c0c0"/>
<rect x="1022" y="656" width="1" height="7" fill="#c0c0c0"/>
<rect x="1030" y="655" width="1" height="8" fill="#c0c0c0"/>
<rect x="1038" y="653" width="1" height="10" fill="#c0c0c0"/>
<rect x="1046" y="653" width="1" height="10" fill="#c0c0c0"/>
<rect x="1054" y="652" width="1" height="11" fill="#c0c0c0"/>
<rect x="1062" y="656" width="1" height="7" fill="#c0c0c0"/>
<rect x="1070" y="660" width="1" height="3" fill="#c0c0c0"/>
<rect x="1078" y="661" width="1" height="2" fill="#c0c0c0"/>
<rect x="1086" y="662" width="1" height="3" fill="#c0c0c0"/>
<rect x="1102" y="661" width="1" height="2" fill="#c0c0c0"/>
<rect x="1110" y="659" width="1" height="4" fill="#c0c0c0"/>
<rect x="1118" y="659" width="1" height="4" fill="#c0c0c0"/>
<rect x="1126" y="659" width="1" height="4" fill="#c0c0c0"/>
<rect x="1134" y="660" width="1" height="3" fill="#c0c0c0"/>
<rect x="1142" y="660" width="1" height="3" fill="#c0c0c0"/>
<rect x="1150" y="660" width="1" height="3" fill="#c0c0c0"/>
<rect x="1158" y="659" width="1" height="4" fill="#c0c0c0"/>
<rect x="1166" y="659" width="1" height="4" fill="#c0c0c0"/>
<rect x="1174" y="659" width="1" height="4" fill="#c0c0c0"/>
<rect x="1182" y="659" width="1" height="4" fill="#c0c0c0"/>
<rect x="1190" y="659" width="1" height="4" fill="#c0c0c0"/>
<rect x="1198" y="661" width="1" height="2" fill="#c0c0c0"/>
<polyline points="6.5,659.3 14.5,658.4 22.5,656.3 30.5,655.2 38.5,655.2 46.5,655.2 54.5,655.4 62.5,656.3 70.5,657.3 78.5,658.6 86.5,661.2 94.5,662.8 102.5,665.2 110.5,666.3 118.5,667.5 126.5,669.1 134.5,670.5 142.5,671.6 150.5,673.3 158.5,674.3 166.5,675.4 174.5,676.2 182.5,677.1 190.5,677.4 198.5,678.2 206.5,678.4 214.5,678.4 222.5,679.0 230.5,680.3 238.5,681.3 246.5,682.2 254.5,683.1 262.5,684.1 270.5,685.1 278.5,686.4 286.5,687.3 294.5,687.3 302.5,686.7 310.5,685.7 318.5,684.8 326.5,683.5 334.5,682.6 342.5,682.2 350.5,681.6 358.5,680.9 366.5,680.3 374.5,680.3 382.5,680.0 390.5,679.3 398.5,679.3 406.5,678.4 414.5,677.1 422.5,675.4 430.5,674.3 438.5,673.3 446.5,672.4 454.5,671.4 462.5,671.4 470.5,670.3 478.5,670.3 486.5,669.5 494.5,668.6 502.5,667.5 510.5,666.5 518.5,665.4 526.5,662.4 534.5,661.4 542.5,659.3 550.5,658.0 558.5,656.3 566.5,653.5 574.5,652.5 582.5,651.5 590.5,650.3 598.5,649.4 606.5,649.4 614.5,649.4 622.5,649.4 630.5,650.3 638.5,652.5 646.5,654.1 654.5,657.6 662.5,660.5 670.5,664.0 678.5,668.6 686.5,672.6 694.5,678.1 702.5,684.8 710.5,690.5 718.5,696.9 726.5,701.7 734.5,704.5 742.5,705.8 750.5,707.3 758.5,706.4 766.5,704.5 774.5,698.2 782.5,691.8 790.5,684.1 798.5,675.4 806.5,667.8 814.5,660.5 822.5,654.1 830.5,650.7 838.5,648.2 846.5,646.6 854.5,647.1 862.5,648.7 870.5,651.3 878.5,652.5 886.5,653.8 894.5,655.0 902.5,655.2 910.5,654.5 918.5,654.4 926.5,653.5 934.5,653.5 942.5,653.5 950.5,654.5 958.5,655.8 966.5,657.3 974.5,658.4 982.5,659.5 990.5,660.5 998.5,661.4 1006.5,661.4 1014.5,661.4 1022.5,661.4 1030.5,660.5 1038.5,659.3 1046.5,657.6 1054.5,656.3 1062.5,655.4 1070.5,655.4 1078.5,655.4 1086.5,656.1 1094.5,657.3 1102.5,658.4 1110.5,658.6 1118.5,659.3 1126.5,660.5 1134.5,660.5 1142.5,660.5 1150.5,660.5 1158.5,659.3 1166.5,659.3 1174.5,659.3 1182.5,658.6 1190.5,658.6 1198.5,659.3 1206.5,659.3" fill="none" stroke="#ff0000" stroke-width="1" stroke-dasharray="3,3"/>
</g>
<text x="10" y="643" font-size="9.6" fill="#000" stroke="#000" stroke-width="0.3" textLength="151" lengthAdjust="spacingAndGlyphs">MACD(12,26,9) -0.000220 0.000495</text>
<text x="1525" y="641" font-size="9.6" fill="#000" stroke="#000" stroke-width="0.3" textLength="38.2" lengthAdjust="spacingAndGlyphs">0.005818</text>
<text x="1525" y="666" font-size="9.6" fill="#000" stroke="#000" stroke-width="0.3" textLength="17.8" lengthAdjust="spacingAndGlyphs">0.00</text>
<text x="1525" y="719" font-size="9.6" fill="#000" stroke="#000" stroke-width="0.3" textLength="41.3" lengthAdjust="spacingAndGlyphs">-0.011514</text>
<rect x="1522" y="632" width="2" height="1" fill="#000"/>
<rect x="1522" y="662" width="2" height="1" fill="#000"/>
<rect x="1522" y="721" width="2" height="1" fill="#000"/>
<rect x="6" y="723" width="1" height="3" fill="#000"/>
<text x="5" y="735" font-size="9.6" fill="#000" stroke="#000" stroke-width="0.3" textLength="54.2" lengthAdjust="spacingAndGlyphs">28 Nov 2019</text>
<rect x="70" y="723" width="1" height="3" fill="#000"/>
<text x="69" y="735" font-size="9.6" fill="#000" stroke="#000" stroke-width="0.3" textLength="48.8" lengthAdjust="spacingAndGlyphs">7 Dec 2019</text>
<rect x="134" y="723" width="1" height="3" fill="#000"/>
<text x="133" y="735" font-size="9.6" fill="#000" stroke="#000" stroke-width="0.3" textLength="54.2" lengthAdjust="spacingAndGlyphs">17 Dec 2019</text>
<rect x="198" y="723" width="1" height="3" fill="#000"/>
<text x="197" y="735" font-size="9.6" fill="#000" stroke="#000" stroke-width="0.3" textLength="54.2" lengthAdjust="spacingAndGlyphs">26 Dec 2019</text>
<rect x="262" y="723" width="1" height="3" fill="#000"/>
<text x="261" y="735" font-size="9.6" fill="#000" stroke="#000" stroke-width="0.3" textLength="47.3" lengthAdjust="spacingAndGlyphs">4 Jan 2020</text>
<rect x="326" y="723" width="1" height="3" fill="#000"/>
<text x="325" y="735" font-size="9.6" fill="#000" stroke="#000" stroke-width="0.3" textLength="52.6" lengthAdjust="spacingAndGlyphs">14 Jan 2020</text>
<rect x="390" y="723" width="1" height="3" fill="#000"/>
<text x="389" y="735" font-size="9.6" fill="#000" stroke="#000" stroke-width="0.3" textLength="52.6" lengthAdjust="spacingAndGlyphs">23 Jan 2020</text>
<rect x="454" y="723" width="1" height="3" fill="#000"/>
<text x="453" y="735" font-size="9.6" fill="#000" stroke="#000" stroke-width="0.3" textLength="48.3" lengthAdjust="spacingAndGlyphs">1 Feb 2020</text>
<rect x="518" y="723" width="1" height="3" fill="#000"/>
<text x="517" y="735" font-size="9.6" fill="#000" stroke="#000" stroke-width="0.3" textLength="52.9" lengthAdjust="spacingAndGlyphs">11 Feb 2020</text>
<rect x="582" y="723" width="1" height="3" fill="#000"/>
<text x="581" y="735" font-size="9.6" fill="#000" stroke="#000" stroke-width="0.3" textLength="53.6" lengthAdjust="spacingAndGlyphs">20 Feb 2020</text>
<rect x="646" y="723" width="1" height="3" fill="#000"/>
<text x="645" y="735" font-size="9.6" fill="#000" stroke="#000" stroke-width="0.3" textLength="53.6" lengthAdjust="spacingAndGlyphs">29 Feb 2020</text>
<rect x="710" y="723" width="1" height="3" fill="#000"/>
<text x="709" y="735" font-size="9.6" fill="#000" stroke="#000" stroke-width="0.3" textLength="53.6" lengthAdjust="spacingAndGlyphs">10 Mar 2020</text>
<rect x="774" y="723" width="1" height="3" fill="#000"/>
<text x="773" y="735" font-size="9.6" fill="#000" stroke="#000" stroke-width="0.3" textLength="53.6" lengthAdjust="spacingAndGlyphs">19 Mar 2020</text>
<rect x="838" y="723" width="1" height="3" fill="#000"/>
<text x="837" y="735" font-size="9.6" fill="#000" stroke="#000" stroke-width="0.3" textLength="53.6" lengthAdjust="spacingAndGlyphs">28 Mar 2020</text>
<rect x="902" y="723" width="1" height="3" fill="#000"/>
<text x="901" y="735" font-size="9.6" fill="#000" stroke="#000" stroke-width="0.3" textLength="46.2" lengthAdjust="spacingAndGlyphs">7 Apr 2020</text>
<rect x="966" y="723" width="1" height="3" fill="#000"/>
<text x="965" y="735" font-size="9.6" fill="#000" stroke="#000" stroke-width="0.3" textLength="51.5" lengthAdjust="spacingAndGlyphs">16 Apr 2020</text>
<rect x="1030" y="723" width="1" height="3" fill="#000"/>
<text x="1029" y="735" font-size="9.6" fill="#000" stroke="#000" stroke-width="0.3" textLength="51.5" lengthAdjust="spacingAndGlyphs">25 Apr 2020</text>
<rect x="1094" y="723" width="1" height="3" fill="#000"/>
<text x="1093" y="735" font-size="9.6" fill="#000" stroke="#000" stroke-width="0.3" textLength="49.9" lengthAdjust="spacingAndGlyphs">5 May 2020</text>
<rect x="1158" y="723" width="1" height="3" fill="#000"/>
<text x="1157" y="735" font-size="9.6" fill="#000" stroke="#000" stroke-width="0.3" textLength="55.2" lengthAdjust="spacingAndGlyphs">14 May 2020</text>
<rect x="1" y="743" width="1566" height="1" fill="#e3e3e3"/>
<rect x="0" y="744" width="1567" height="1" fill="#ffffff"/>
<rect x="1" y="745" width="1567" height="1" fill="#000"/>
<rect x="0" y="746" width="1568" height="19" fill="#f0f0f0"/>
<rect x="3" y="746" width="1564" height="1" fill="#ffffff"/>
<rect x="3" y="746" width="1" height="18" fill="#ffffff"/>
<rect x="1" y="746" width="1" height="18" fill="#a0a0a0"/>
<rect x="2" y="746" width="1" height="18" fill="#696969"/>
<rect x="1567" y="746" width="1" height="19" fill="#e8e8e8"/>
<rect x="0" y="765" width="1568" height="1" fill="#ffffff"/>
<rect x="0" y="766" width="1568" height="3" fill="#f0f0f0"/>
<rect x="0" y="769" width="1566" height="1" fill="#a0a0a0"/>
<rect x="111" y="745" width="99" height="18" fill="#ffffff"/>
<rect x="110" y="745" width="1" height="19" fill="#000"/>
<rect x="210" y="745" width="1" height="19" fill="#000"/>
<rect x="110" y="763" width="101" height="1" fill="#000"/>
<text x="59.3" y="760" font-size="12" fill="#6d6d6d" stroke="#6d6d6d" stroke-width="0.15" text-anchor="middle" textLength="79.4" lengthAdjust="spacingAndGlyphs">EURUSD,Daily</text>
<text x="160.5" y="760" font-size="12" fill="#000" stroke="#000" stroke-width="0.15" text-anchor="middle" textLength="79" lengthAdjust="spacingAndGlyphs">USDCHF,Daily</text>
<text x="262.9" y="760" font-size="12" fill="#6d6d6d" stroke="#6d6d6d" stroke-width="0.15" text-anchor="middle" textLength="82.2" lengthAdjust="spacingAndGlyphs">AUDUSD,Daily</text>
<text x="366.7" y="760" font-size="12" fill="#6d6d6d" stroke="#6d6d6d" stroke-width="0.15" text-anchor="middle" textLength="80.9" lengthAdjust="spacingAndGlyphs">USDCAD,Daily</text>
<text x="470.7" y="760" font-size="12" fill="#6d6d6d" stroke="#6d6d6d" stroke-width="0.15" text-anchor="middle" textLength="82.7" lengthAdjust="spacingAndGlyphs">USDCNH,Daily</text>
<text x="575" y="760" font-size="12" fill="#6d6d6d" stroke="#6d6d6d" stroke-width="0.15" text-anchor="middle" textLength="80" lengthAdjust="spacingAndGlyphs">EURUSD,Daily</text>
<text x="679" y="760" font-size="12" fill="#6d6d6d" stroke="#6d6d6d" stroke-width="0.15" text-anchor="middle" textLength="80" lengthAdjust="spacingAndGlyphs">GBPUSD,Daily</text>
<text x="793" y="760" font-size="12" fill="#6d6d6d" stroke="#6d6d6d" stroke-width="0.15" text-anchor="middle" textLength="99.8" lengthAdjust="spacingAndGlyphs">XAUUSD,Monthly</text>
<text x="891.2" y="760" font-size="12" fill="#6d6d6d" stroke="#6d6d6d" stroke-width="0.15" text-anchor="middle" textLength="49.2" lengthAdjust="spacingAndGlyphs">HK50,H1</text>
<text x="966.5" y="760" font-size="12" fill="#6d6d6d" stroke="#6d6d6d" stroke-width="0.15" text-anchor="middle" textLength="56.9" lengthAdjust="spacingAndGlyphs">UK100,H1</text>
<text x="1046.5" y="760" font-size="12" fill="#6d6d6d" stroke="#6d6d6d" stroke-width="0.15" text-anchor="middle" textLength="56.1" lengthAdjust="spacingAndGlyphs">UK100,H1</text>
<text x="1126.8" y="760" font-size="12" fill="#6d6d6d" stroke="#6d6d6d" stroke-width="0.15" text-anchor="middle" textLength="56" lengthAdjust="spacingAndGlyphs">GER30,H1</text>
<text x="1204.6" y="760" font-size="12" fill="#6d6d6d" stroke="#6d6d6d" stroke-width="0.15" text-anchor="middle" textLength="53.6" lengthAdjust="spacingAndGlyphs">FRA40,H1</text>
<text x="1284.6" y="760" font-size="12" fill="#6d6d6d" stroke="#6d6d6d" stroke-width="0.15" text-anchor="middle" textLength="62.2" lengthAdjust="spacingAndGlyphs">USOil,Daily</text>
<text x="1368.4" y="760" font-size="12" fill="#6d6d6d" stroke="#6d6d6d" stroke-width="0.15" text-anchor="middle" textLength="62.2" lengthAdjust="spacingAndGlyphs">USDJPY,H1</text>
<text x="1450.8" y="760" font-size="12" fill="#6d6d6d" stroke="#6d6d6d" stroke-width="0.15" text-anchor="middle" textLength="58" lengthAdjust="spacingAndGlyphs">DJ30,Daily</text>
<rect x="315" y="749" width="1" height="12" fill="#707070"/>
<rect x="419" y="749" width="1" height="12" fill="#707070"/>
<rect x="523" y="749" width="1" height="12" fill="#707070"/>
<rect x="627" y="749" width="1" height="12" fill="#707070"/>
<rect x="731" y="749" width="1" height="12" fill="#707070"/>
<rect x="854" y="749" width="1" height="12" fill="#707070"/>
<rect x="927" y="749" width="1" height="12" fill="#707070"/>
<rect x="1007" y="749" width="1" height="12" fill="#707070"/>
<rect x="1087" y="749" width="1" height="12" fill="#707070"/>
<rect x="1167" y="749" width="1" height="12" fill="#707070"/>
<rect x="1243" y="749" width="1" height="12" fill="#707070"/>
<rect x="1327" y="749" width="1" height="12" fill="#707070"/>
<rect x="1411" y="749" width="1" height="12" fill="#707070"/>
<rect x="1491" y="749" width="1" height="12" fill="#707070"/>
<polygon points="1540,750.5 1540,757.5 1536.5,754" fill="#909090"/>
<polygon points="1556,750.5 1556,757.5 1559.5,754" fill="#909090"/>
</svg>
</body></html>
